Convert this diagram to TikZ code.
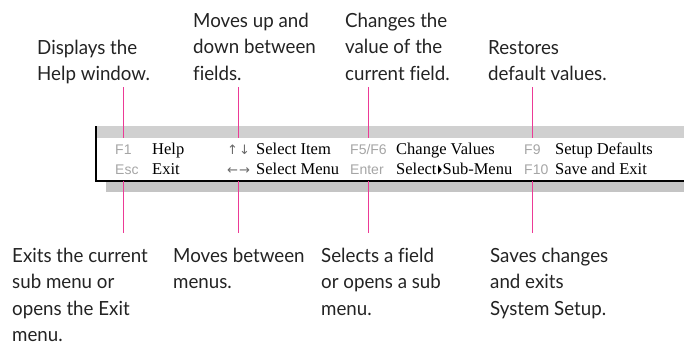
\documentclass[tikz,border=0pt]{standalone}
\usepackage{fontspec}
\setmainfont{Liberation Serif}
\newfontfamily\annfont[FakeStretch=0.96,Ligatures=CommonOff]{Lato}
\newfontfamily\keyfont{Liberation Sans}
\newfontfamily\symfont{DejaVu Sans}
\definecolor{hotpink}{RGB}{236,58,150}
\definecolor{barA}{RGB}{208,208,208}
\definecolor{barB}{RGB}{196,196,196}
\definecolor{keygray}{RGB}{165,165,165}
\definecolor{arrgray}{RGB}{105,105,105}
\definecolor{anntext}{RGB}{35,35,35}
\newcommand{\annlines}[1]{\begin{tabular}[t]{@{}l@{}}#1\end{tabular}}
\begin{document}
\begin{tikzpicture}[x=1pt,y=-1pt,
  ann/.style={anchor=base west,inner sep=0pt,text=anntext,font=\annfont\fontsize{19.5}{26.5}\selectfont},
  keylab/.style={anchor=base west,inner sep=0pt,text=keygray,font=\keyfont\fontsize{14}{16}\selectfont},
  arrlab/.style={anchor=base west,inner sep=0pt,text=arrgray,font=\symfont\fontsize{13}{14}\selectfont},
  desc/.style={anchor=base west,inner sep=0pt,text=black,font=\fontsize{16.5}{18}\selectfont},
  callout/.style={draw=hotpink,line width=1.1pt}]
\useasboundingbox (0,0) rectangle (684,343);
% bars and frame
\fill[barA] (96,126) rectangle (684,137.5);
\fill[barB] (106,182) rectangle (684,192);
\draw[line width=1.6pt,line join=miter] (96,126) -- (96,181) -- (684,181);
% row 1 / row 2 keys
\node[keylab] (kF1) at (115,154) {F1};
\node[keylab] (kEsc) at (115,174) {Esc};
\node[desc] (dHelp) at (152,154) {Help};
\node[desc] (dExit) at (152,174) {Exit};
\node[arrlab] (kUD) at (227,154) {↑\kern1pt↓};
\node[arrlab] (kLR) at (227,174) {←\kern1pt→};
\node[desc] (dItem) at (256,154) {Select Item};
\node[desc] (dMenu) at (256,174) {Select Menu};
\node[keylab] (kF5) at (350,154) {F5/F6};
\node[keylab] (kEnter) at (350,174) {Enter};
\node[desc] (dChange) at (396,154) {Change Values};
\node[desc] (dSub) at (396,174) {Select\kern1.5pt{\symfont\fontsize{11}{12}\selectfont\raisebox{0.5pt}{\scalebox{0.45}[1.15]{▶}}}\kern0.8pt Sub-Menu};
\node[keylab] (kF9) at (524,154) {F9};
\node[keylab] (kF10) at (524,174) {F10};
\node[desc] (dDef) at (555,154) {Setup Defaults};
\node[desc] (dSave) at (555,174) {Save and Exit};
% annotations
\node[ann] (aHelp) at (37,54) {\annlines{Displays the\\Help window.}};
\node[ann] (aUD) at (193,27) {\annlines{Moves up and\\down between\\fields.}};
\node[ann] (aChange) at (345,27) {\annlines{Changes the\\value of the\\current field.}};
\node[ann] (aDef) at (488,54) {\annlines{Restores\\default values.}};
\node[ann] (aExit) at (12,262) {\annlines{Exits the current\\sub menu or\\opens the Exit\\menu.}};
\node[ann] (aLR) at (173,262) {\annlines{Moves between\\menus.}};
\node[ann] (aSub) at (321,262) {\annlines{Selects a field\\or opens a sub\\menu.}};
\node[ann] (aSave) at (490,262) {\annlines{Saves changes\\and exits\\System Setup.}};
% callout levels
\coordinate (topA) at (0,87);
\coordinate (topB) at (0,138);
\coordinate (botA) at (0,181);
\coordinate (botB) at (0,233);
\foreach \k in {kF1,kUD,kF5,kF9}{
  \draw[callout] (\k.center |- topA) -- (\k.center |- topB);
  \draw[callout] (\k.center |- botA) -- (\k.center |- botB);
}
\end{tikzpicture}
\end{document}
